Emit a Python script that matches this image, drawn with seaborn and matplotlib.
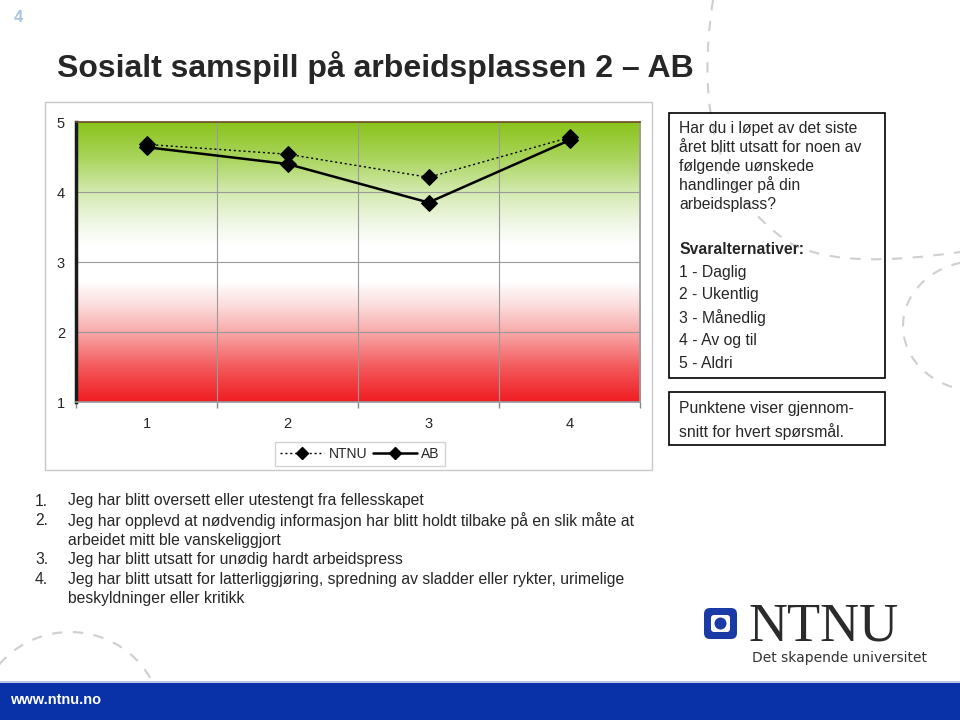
import numpy as np
import pandas as pd
import matplotlib
matplotlib.use("Agg")
import matplotlib.pyplot as plt
import seaborn as sns
from matplotlib.colors import LinearSegmentedColormap
from matplotlib.patches import Rectangle, FancyBboxPatch, Circle, Arc, PathPatch
from matplotlib.path import Path
from matplotlib.lines import Line2D

# --- data -------------------------------------------------------------
questions = [1, 2, 3, 4]
ntnu_values = [4.68, 4.54, 4.21, 4.78]
ab_values = [4.64, 4.40, 3.85, 4.74]
y_ticks = [1, 2, 3, 4, 5]

title = "Sosialt samspill på arbeidsplassen 2 – AB"
question_text = ["Har du i løpet av det siste", "året blitt utsatt for noen av",
                 "følgende uønskede", "handlinger på din", "arbeidsplass?"]
answer_options = ["1 - Daglig", "2 - Ukentlig", "3 - Månedlig", "4 - Av og til", "5 - Aldri"]
note_text = ["Punktene viser gjennom-", "snitt for hvert spørsmål."]
question_list = [
    ("1.", "Jeg har blitt oversett eller utestengt fra fellesskapet"),
    ("2.", "Jeg har opplevd at nødvendig informasjon har blitt holdt tilbake på en slik måte at"),
    ("", "arbeidet mitt ble vanskeliggjort"),
    ("3.", "Jeg har blitt utsatt for unødig hardt arbeidspress"),
    ("4.", "Jeg har blitt utsatt for latterliggjøring, spredning av sladder eller rykter, urimelige"),
    ("", "beskyldninger eller kritikk"),
]

df = pd.DataFrame({"spm": questions * 2,
                   "snitt": ntnu_values + ab_values,
                   "gruppe": ["NTNU"] * 4 + ["AB"] * 4})

sns.set_theme(style="white")
plt.rcParams["font.family"] = ["Liberation Sans", "DejaVu Sans"]

fig = plt.figure(figsize=(9.6, 7.2), dpi=100)
body = 11.3

# full-figure overlay in pixel coordinates for the slide decorations
bg = fig.add_axes([0, 0, 1, 1], zorder=0)
bg.set_xlim(0, 960)
bg.set_ylim(720, 0)
bg.axis("off")

# chart frame
bg.add_patch(Rectangle((45, 102), 607, 368, fc="white", ec="#c8c8c8", lw=1))

# dashed decorative arcs
arc_col = "#cfcfcf"
verts = [(713, 0), (698, 100), (710, 190), (790, 243),
         (830, 264), (890, 262), (960, 252)]
codes = [Path.MOVETO] + [Path.CURVE4] * 6
bg.add_patch(PathPatch(Path(verts, codes), fill=False, ec=arc_col, lw=1.5,
                       ls=(0, (5, 5)), zorder=1))
bg.add_patch(Arc((978, 326), 150, 130, theta1=95, theta2=265, ec=arc_col,
                 lw=1.5, ls=(0, (5, 5))))
bg.add_patch(Arc((70, 722), 184, 180, theta1=180, theta2=360, ec=arc_col,
                 lw=1.5, ls=(0, (5, 5))))

bg.text(14, 18, "4", color="#a9c4e0", fontsize=12, fontweight="bold",
        va="center", ha="left")
bg.text(57, 67, title, fontsize=23, fontweight="bold", va="center", ha="left")

# right text boxes (transparent, arcs show through)
bg.add_patch(Rectangle((669, 113), 216, 265, fc="none", ec="black", lw=1.2, zorder=2))
for i, line in enumerate(question_text):
    bg.text(679, 128 + i * 19, line, fontsize=body, va="center")
bg.text(679, 249, "Svaralternativer:", fontsize=body, fontweight="bold", va="center")
for i, line in enumerate(answer_options):
    bg.text(679, 272 + i * 23, line, fontsize=body, va="center")
bg.add_patch(Rectangle((669, 392), 216, 53, fc="none", ec="black", lw=1.2, zorder=2))
for i, line in enumerate(note_text):
    bg.text(679, 408 + i * 24, line, fontsize=body, va="center")

# numbered questions
for i, (num, line) in enumerate(question_list):
    y = 501 + i * 19.6
    if num:
        bg.text(35, y, num, fontsize=body, va="center")
    bg.text(68, y, line, fontsize=body, va="center")

# NTNU logo
bg.add_patch(FancyBboxPatch((704, 608), 33, 31, boxstyle="round,pad=0,rounding_size=6",
                            fc="#1a3aa6", ec="none"))
bg.add_patch(FancyBboxPatch((711, 615), 19, 17, boxstyle="round,pad=0,rounding_size=3",
                            fc="white", ec="none"))
bg.add_patch(Circle((720.5, 623.5), 6, fc="#1a3aa6", ec="none"))
bg.text(748, 627, "NTNU", family=["Liberation Serif", "DejaVu Serif"], fontsize=39,
        color="#2b2b2b", va="center", ha="left")
bg.text(752, 658, "Det skapende universitet", family=["DejaVu Sans"], fontsize=10,
        color="#333333", va="center", ha="left")

# bottom bar
bg.add_patch(Rectangle((0, 681), 960, 2, fc="#b9c8e8", ec="none"))
bg.add_patch(Rectangle((0, 683), 960, 37, fc="#0a32a8", ec="none"))
bg.text(10, 700, "www.ntnu.no", color="white", fontsize=10.5, fontweight="bold",
        va="center", ha="left")

# --- chart ------------------------------------------------------------
ax = fig.add_axes([76 / 960, 1 - 402 / 720, 564 / 960, 280 / 720], zorder=2)

grad_cmap = LinearSegmentedColormap.from_list("rg", [
    (0.0, "#f01c22"), (0.125, "#f35a5c"), (0.25, "#f8aaaa"), (0.34, "#fcdada"),
    (0.43, "#ffffff"), (0.56, "#ffffff"), (0.64, "#f0f7e6"), (0.75, "#d4eab0"),
    (0.875, "#a9d45c"), (1.0, "#8ac41a")])
grad = np.linspace(0, 1, 256).reshape(-1, 1)
ax.imshow(grad, cmap=grad_cmap, origin="lower", aspect="auto",
          extent=(0.5, 4.5, 1, 5), zorder=0)

sns.lineplot(data=df[df.gruppe == "NTNU"], x="spm", y="snitt", ax=ax, color="black",
             lw=1.0, ls=(0, (1.5, 2)), marker="D", markersize=8,
             markeredgecolor="black", zorder=3, legend=False)
sns.lineplot(data=df[df.gruppe == "AB"], x="spm", y="snitt", ax=ax, color="black",
             lw=1.8, marker="D", markersize=8, markeredgecolor="black",
             zorder=4, legend=False)

ax.set_xlim(0.5, 4.5)
ax.set_ylim(1, 5)
ax.set_xticks(questions)
ax.set_xticks([0.5, 1.5, 2.5, 3.5, 4.5], minor=True)
ax.set_yticks(y_ticks)
ax.set_xlabel("")
ax.set_ylabel("")
ax.grid(False)
for v in [1.5, 2.5, 3.5]:
    ax.axvline(v, color="#9a9a9a", lw=0.8, zorder=1)
for v in y_ticks[1:-1]:
    ax.axhline(v, color="#9a9a9a", lw=0.8, zorder=1)
ax.tick_params(axis="x", which="major", length=0, pad=11, labelsize=10.5)
ax.tick_params(axis="x", which="minor", length=4, color="#888888", direction="out",
               bottom=True)
ax.tick_params(axis="y", which="major", length=0, pad=8, labelsize=10.5)
ax.spines["left"].set_color("#1a1a1a")
ax.spines["left"].set_linewidth(2.5)
ax.spines["top"].set_color("#6b4a2a")
ax.spines["top"].set_linewidth(1.2)
ax.spines["right"].set_color("#9a9a9a")
ax.spines["bottom"].set_color("#9a9a9a")

handles = [Line2D([], [], color="black", lw=1.0, ls=(0, (1.5, 2)), marker="D",
                  markersize=6),
           Line2D([], [], color="black", lw=1.8, marker="D", markersize=6)]
leg = fig.legend(handles, ["NTNU", "AB"], loc="center", ncol=2,
                 bbox_to_anchor=(360 / 960, 1 - 454 / 720), frameon=True,
                 fancybox=False, edgecolor="#c8c8c8", fontsize=10,
                 handlelength=3.2, handletextpad=0.3, columnspacing=0.4,
                 borderpad=0.35)
leg.get_frame().set_linewidth(1)

fig.savefig("out.png", dpi=100)
